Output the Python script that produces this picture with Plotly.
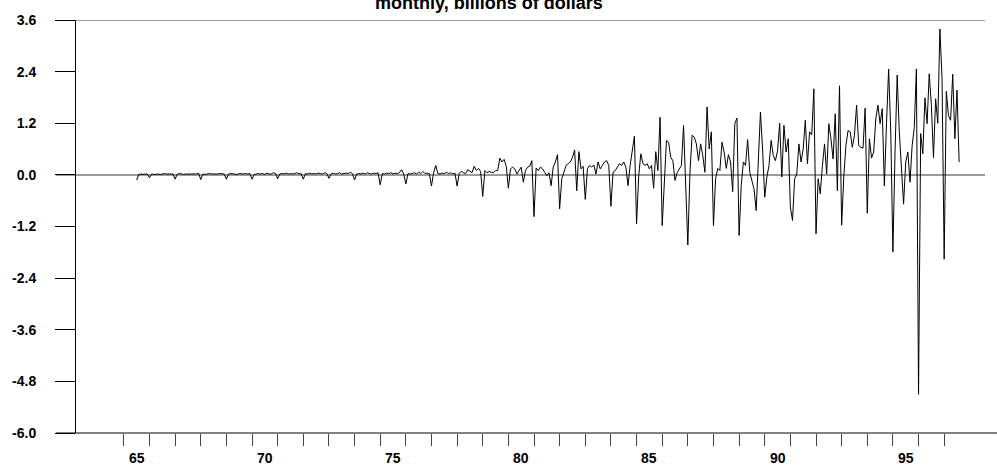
import plotly.graph_objects as go

START_YEAR = 1965
START_MONTH = 7  # first observation month

v1965 = [-0.12, 0.01, 0.02, 0.01, 0.02, 0.02]
v1966 = [-0.07, 0.02, 0.01, 0.02, 0.02, 0.01, 0.02, 0.03, 0.02, 0.02, 0.03, 0.02]
v1967 = [-0.10, 0.02, 0.03, 0.02, 0.01, 0.02, 0.02, 0.03, 0.02, 0.03, 0.02, 0.04]
v1968 = [-0.11, 0.02, 0.01, 0.02, 0.03, 0.02, 0.02, 0.01, 0.02, 0.03, 0.02, 0.02]
v1969 = [-0.10, 0.02, 0.03, 0.02, 0.02, 0.01, 0.03, 0.02, 0.02, 0.03, 0.02, 0.03]
v1970 = [-0.10, 0.01, 0.02, 0.03, 0.02, 0.03, 0.01, 0.04, 0.02, 0.02, 0.05, 0.03]
v1971 = [-0.09, 0.02, 0.03, 0.02, 0.04, 0.02, 0.03, 0.02, 0.03, 0.05, 0.02, 0.03]
v1972 = [-0.10, 0.03, 0.02, 0.04, 0.02, 0.03, 0.02, 0.04, 0.03, 0.02, 0.05, 0.03]
v1973 = [-0.08, 0.02, 0.04, 0.02, 0.03, 0.05, 0.02, 0.03, 0.04, 0.03, 0.06, 0.03]
v1974 = [-0.12, 0.02, 0.03, 0.02, 0.04, 0.02, 0.05, 0.03, 0.02, 0.04, 0.03, 0.05]
v1975 = [-0.23, 0.03, 0.02, 0.04, 0.03, 0.05, 0.02, 0.04, 0.03, 0.05, 0.12, 0.02]
v1976 = [-0.21, 0.03, 0.02, 0.03, 0.05, 0.02, 0.06, 0.03, 0.08, 0.03, 0.04, 0.03]
v1977 = [-0.26, 0.05, 0.22, 0.03, 0.02, 0.04, 0.03, 0.06, 0.03, 0.05, 0.02, 0.04]
v1978 = [-0.26, 0.04, 0.08, 0.05, 0.03, 0.12, 0.08, 0.05, 0.20, 0.10, 0.15, 0.08]
v1979 = [-0.50, 0.10, 0.05, 0.08, 0.06, 0.05, 0.10, 0.10, 0.39, 0.30, 0.36, 0.20]
v1980 = [-0.31, 0.14, 0.18, 0.14, 0.02, 0.10, 0.18, -0.17, 0.10, 0.18, 0.20, 0.33]
v1981 = [-0.97, 0.16, 0.10, 0.18, 0.14, 0.06, -0.02, 0.05, -0.25, 0.18, 0.30, 0.47]
v1982 = [-0.79, -0.09, 0.06, 0.22, 0.26, 0.30, 0.40, 0.58, -0.37, 0.54, 0.14, 0.20]
v1983 = [-0.57, 0.14, 0.22, 0.18, 0.23, 0.02, 0.30, 0.14, 0.22, 0.30, 0.33, 0.22]
v1984 = [-0.73, 0.06, 0.10, 0.18, 0.26, 0.22, 0.30, 0.18, -0.25, 0.22, 0.57, 0.90]
v1985 = [-1.14, -0.03, 0.49, 0.26, 0.22, 0.26, 0.14, 0.22, -0.31, 0.54, 0.10, 1.34]
v1986 = [-1.18, -0.17, 0.80, 0.76, 0.41, 0.33, -0.13, 0.05, 0.14, 0.22, 1.15, -0.09]
v1987 = [-1.63, 0.06, 0.92, 0.88, 0.72, 0.33, 0.72, 0.45, 0.06, 1.58, 0.60, 1.00]
v1988 = [-1.18, -0.09, 0.15, 0.10, 0.76, 0.53, 0.15, 0.47, 0.30, -0.39, 1.19, 1.32]
v1989 = [-1.41, -0.25, 0.30, 0.22, 0.82, 0.06, -0.17, -0.33, -0.83, 0.30, 1.46, 0.60]
v1990 = [-0.52, -0.05, 0.22, 0.80, 0.45, 0.33, 0.56, 1.20, -0.05, 1.15, 0.53, 0.84]
v1991 = [-0.75, -1.06, -0.09, 0.02, 0.72, 0.30, 0.60, 1.27, 0.26, 1.00, 0.93, 2.00]
v1992 = [-1.37, -0.09, -0.44, 0.22, 0.72, 0.02, 1.19, 0.84, 0.37, 1.42, -0.37, 2.07]
v1993 = [-1.17, -0.05, 0.68, 1.03, 1.00, 0.64, 0.92, 1.62, 0.68, 0.64, 0.62, 1.55]
v1994 = [-0.89, 0.84, 0.39, 0.53, 1.30, 1.62, 1.19, 1.54, -0.26, 1.19, 2.46, 1.00]
v1995 = [-1.79, 0.53, 2.32, 1.00, 0.20, -0.68, 0.30, 0.53, -0.17, 0.68, 1.10, 2.46]
v1996 = [-5.10, 0.96, 0.49, 1.79, 1.19, 2.35, 1.62, 0.40, 1.77, 1.20, 3.39, 2.24]
v1997 = [-1.96, 1.94, 1.38, 1.27, 2.34, 0.84, 1.97, 0.30]

years = list(range(1965, 1998))
year_values = [v1965, v1966, v1967, v1968, v1969, v1970, v1971, v1972, v1973,
               v1974, v1975, v1976, v1977, v1978, v1979, v1980, v1981, v1982,
               v1983, v1984, v1985, v1986, v1987, v1988, v1989, v1990, v1991,
               v1992, v1993, v1994, v1995, v1996, v1997]

y_ticks = [3.6, 2.4, 1.2, 0.0, -1.2, -2.4, -3.6, -4.8, -6.0]
x_label_years = [1965, 1970, 1975, 1980, 1985, 1990, 1995]
x_tick_years = list(range(1965, 1998))
title_text = "monthly, billions of dollars"

# build monthly time axis (decimal years)
xs, ys = [], []
for yr, vals in zip(years, year_values):
    m0 = START_MONTH - 1 if yr == START_YEAR else 0
    for i, v in enumerate(vals):
        xs.append(yr + (m0 + i) / 12.0)
        ys.append(v)

W, H = 997, 468
ML, MR, MT, MB = 73, 12, 15, 35
PW = W - ML - MR
PH = H - MT - MB
px_per_year = 25.72
x0_year = 1965 - (121 - ML) / px_per_year
x1_year = x0_year + PW / px_per_year

FONT = "Liberation Sans"

fig = go.Figure()
fig.add_trace(go.Scatter(x=xs, y=ys, mode="lines",
                         line=dict(color="black", width=1), hoverinfo="skip",
                         showlegend=False))

left_ext = -20 / PW
shapes = [
    dict(type="line", xref="paper", yref="y", x0=left_ext, x1=1, y0=3.6, y1=3.6,
         line=dict(color="#7a7a7a", width=1.5), layer="below"),
    dict(type="line", xref="paper", yref="y", x0=left_ext, x1=1, y0=0, y1=0,
         line=dict(color="#7a7a7a", width=1.5), layer="below"),
    dict(type="line", xref="paper", yref="paper", x0=left_ext, x1=(W - ML) / PW, y0=0, y1=0,
         line=dict(color="black", width=1)),
]

annotations = []
for yr in x_label_years:
    annotations.append(dict(x=yr + 0.5, y=-(458 - (H - MB)) / PH, xref="x", yref="paper",
                            text=str(yr)[2:], showarrow=False, yanchor="middle",
                            xanchor="center",
                            font=dict(family=FONT, size=14, color="black", weight="bold")))
annotations.append(dict(x=(487 - ML) / PW, y=1 + (MT + 2) / PH, xref="paper", yref="paper",
                        text=title_text, showarrow=False, yanchor="middle", xanchor="center",
                        font=dict(family=FONT, size=18, color="black", weight="bold")))

fig.update_layout(
    width=W, height=H,
    margin=dict(l=ML, r=MR, t=MT, b=MB, pad=0),
    paper_bgcolor="white", plot_bgcolor="white",
    shapes=shapes, annotations=annotations,
    xaxis=dict(range=[x0_year, x1_year], tickvals=x_tick_years, showticklabels=False,
               ticks="outside", ticklen=12, tickcolor="#444", tickwidth=1,
               showgrid=False, zeroline=False, showline=False),
    yaxis=dict(range=[-6.0, 3.6], tickvals=y_ticks,
               ticktext=[f"{v:.1f}" for v in y_ticks],
               ticks="outside", ticklen=20, tickcolor="black", tickwidth=1,
               showline=True, linecolor="black", linewidth=1,
               showgrid=False, zeroline=False, ticklabelstandoff=16,
               tickfont=dict(family=FONT, size=14, color="black", weight="bold")),
)

fig.write_html("out.html",
               config={"displayModeBar": False, "staticPlot": True},
               post_script="document.body.style.margin='0px';document.body.style.padding='0px';")
